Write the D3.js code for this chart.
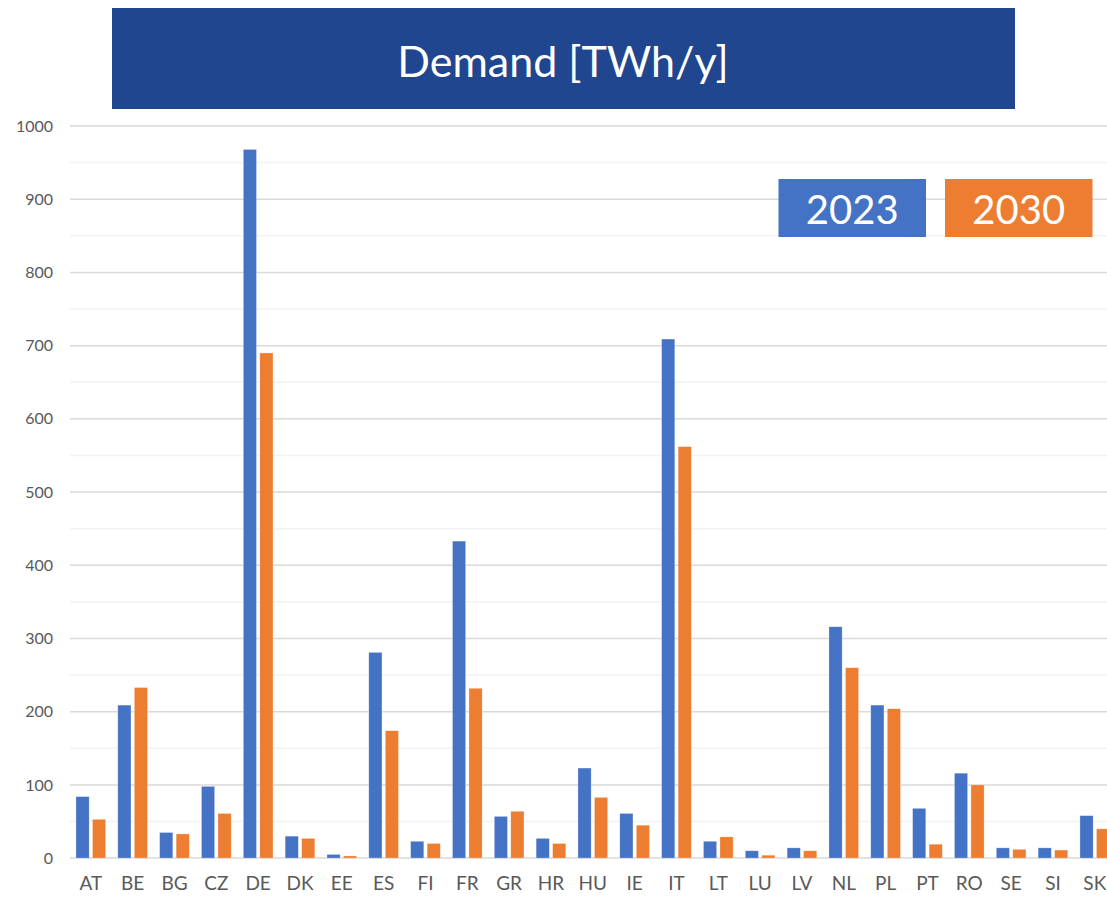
<!DOCTYPE html>
<html>
<head>
<meta charset="utf-8">
<script src="https://cdn.jsdelivr.net/npm/d3@7"></script>
<style>
  html, body { margin: 0; padding: 0; background: #fff; }
  svg { display: block; }
</style>
</head>
<body>
<svg id="chart" width="1107" height="900"></svg>
<script>
// ---- data ----
const title = "Demand [TWh/y]";
const countries = ["AT","BE","BG","CZ","DE","DK","EE","ES","FI","FR","GR","HR","HU","IE","IT","LT","LU","LV","NL","PL","PT","RO","SE","SI","SK"];
const seriesNames = ["2023", "2030"];
const demand2023 = [84, 209, 35, 98, 968, 30, 5, 281, 23, 433, 57, 27, 123, 61, 709, 23, 10, 14, 316, 209, 68, 116, 14, 14, 58];
const demand2030 = [53, 233, 33, 61, 690, 27, 3, 174, 20, 232, 64, 20, 83, 45, 562, 29, 4, 10, 260, 204, 19, 100, 12, 11, 40];
const yTicks = [0, 100, 200, 300, 400, 500, 600, 700, 800, 900, 1000];
const yMinorTicks = [50, 150, 250, 350, 450, 550, 650, 750, 850, 950];
const colors = ["#4472C4", "#ED7D31"];

const values = [demand2023, demand2030];
const rows = countries.map((c, i) => ({ country: c, vals: seriesNames.map((s, j) => ({ series: s, value: values[j][i], color: colors[j] })) }));

const svg = d3.select("#chart");
const font = "Lato, 'Open Sans', sans-serif";

// ---- title banner ----
svg.append("rect").attr("x", 112).attr("y", 8).attr("width", 903).attr("height", 101).attr("fill", "#1F468F");
svg.append("text").attr("x", 563).attr("y", 60).attr("text-anchor", "middle").attr("dominant-baseline", "central")
  .attr("fill", "#fff").attr("font-family", font).attr("font-size", 43).text(title);

// ---- scales ----
const x0 = d3.scaleBand().domain(countries).range([69.9, 1115.7]).paddingInner(0.29).paddingOuter(0.145);
const x1 = d3.scaleBand().domain(seriesNames).range([0, x0.bandwidth()]).paddingInner(0.2);
const y = d3.scaleLinear().domain([0, 1000]).range([858.1, 126]);

// ---- gridlines ----
const gridX0 = 70, gridX1 = 1107;
svg.append("g").selectAll("line").data(yMinorTicks).join("line")
  .attr("x1", gridX0).attr("x2", gridX1).attr("y1", d => y(d)).attr("y2", d => y(d))
  .attr("stroke", "#F2F2F2").attr("stroke-width", 1.5);
svg.append("g").selectAll("line").data(yTicks).join("line")
  .attr("x1", gridX0).attr("x2", gridX1).attr("y1", d => y(d)).attr("y2", d => y(d))
  .attr("stroke", "#D9D9D9").attr("stroke-width", 1.5);

// ---- y axis labels ----
const yAxis = d3.axisLeft(y).tickValues(yTicks).tickFormat(d3.format("d")).tickSize(0).tickPadding(0);
const ya = svg.append("g").attr("transform", "translate(53,0)").call(yAxis);
ya.select(".domain").remove();
ya.selectAll("text").attr("fill", "#595959").attr("font-family", font).attr("font-size", 16);

// ---- x axis labels ----
const xAxis = d3.axisBottom(x0).tickSize(0).tickPadding(0);
const xa = svg.append("g").attr("transform", "translate(0,876)").call(xAxis);
xa.select(".domain").remove();
xa.selectAll("text").attr("fill", "#595959").attr("font-family", font).attr("font-size", 19).attr("dy", "0.71em");

// ---- bars ----
svg.append("g").selectAll("g").data(rows).join("g")
  .attr("transform", d => `translate(${x0(d.country)},0)`)
  .selectAll("rect").data(d => d.vals).join("rect")
  .attr("x", d => x1(d.series)).attr("width", x1.bandwidth())
  .attr("y", d => y(d.value)).attr("height", d => y(0) - y(d.value))
  .attr("fill", d => d.color).attr("stroke", "#fff").attr("stroke-width", 0.6).attr("stroke-opacity", 0.5);

// ---- legend ----
const legendX = [778.5, 945];
const lg = svg.append("g").selectAll("g").data(seriesNames).join("g")
  .attr("transform", (d, i) => `translate(${legendX[i]},179)`);
lg.append("rect").attr("width", 147.5).attr("height", 58).attr("fill", (d, i) => colors[i]);
lg.append("text").attr("x", 73.75).attr("y", 30).attr("text-anchor", "middle").attr("dominant-baseline", "central")
  .attr("fill", "#fff").attr("font-family", font).attr("font-size", 40).text(d => d);
</script>
</body>
</html>
